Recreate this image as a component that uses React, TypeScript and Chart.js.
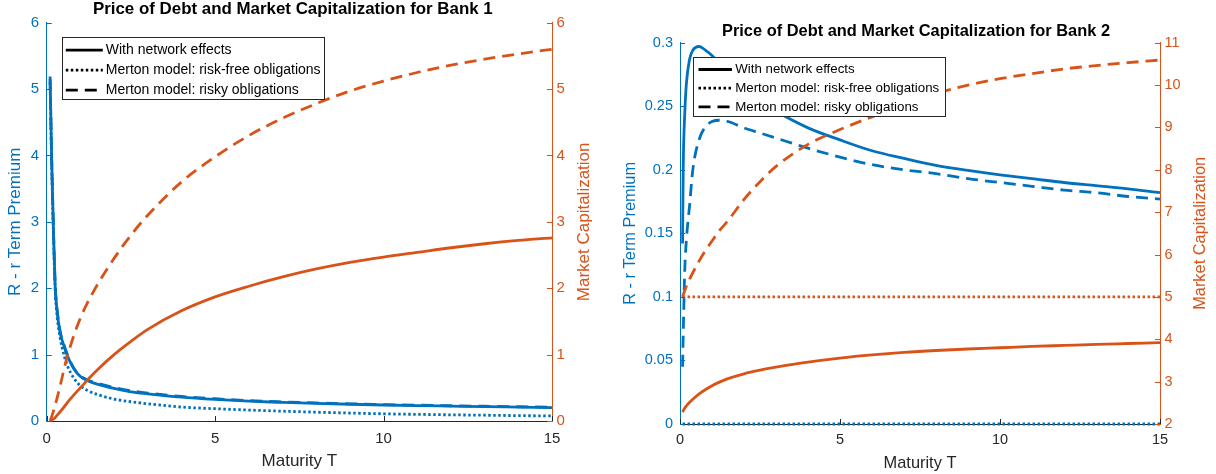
import React, { useEffect, useRef } from "react";
import { Chart, registerables } from "chart.js";

Chart.register(...registerables);

const FONT = "'Liberation Sans', Arial, Helvetica, sans-serif";
const BLUE = "#0072BD";
const ORANGE = "#D95319";
const AXIS = "#262626";

// ---------- Bank 1 ----------
const b1T = [0.1, 0.15, 0.2, 0.25, 0.3, 0.4, 0.5, 0.6, 0.8, 1, 1.25, 1.5, 2, 2.5, 3, 4, 5, 6, 7, 8, 9, 10, 11, 12, 13, 14, 15];
const b1PremNetwork = [5.19, 3.9, 2.9, 2.05, 1.7, 1.33, 1.15, 1.0, 0.79, 0.67, 0.6, 0.555, 0.49, 0.44, 0.41, 0.36, 0.325, 0.298, 0.28, 0.265, 0.252, 0.241, 0.232, 0.224, 0.216, 0.209, 0.202];
const b1PremRiskFree = [5.1, 3.8, 2.8, 2.0, 1.62, 1.25, 1.02, 0.85, 0.65, 0.53, 0.45, 0.4, 0.33, 0.29, 0.26, 0.21, 0.185, 0.165, 0.148, 0.133, 0.12, 0.108, 0.1, 0.093, 0.087, 0.081, 0.076];
const b1PremRisky = [5.15, 3.88, 2.9, 2.07, 1.72, 1.35, 1.17, 1.02, 0.8, 0.68, 0.61, 0.57, 0.505, 0.455, 0.42, 0.37, 0.335, 0.307, 0.288, 0.272, 0.259, 0.248, 0.238, 0.23, 0.222, 0.215, 0.208];
const b1CapNetwork = [0, 0.01, 0.03, 0.05, 0.08, 0.14, 0.2, 0.27, 0.39, 0.5, 0.64, 0.77, 1.0, 1.2, 1.38, 1.66, 1.87, 2.03, 2.17, 2.29, 2.39, 2.47, 2.54, 2.61, 2.67, 2.72, 2.76];
const b1CapRisky = [0, 0.07, 0.15, 0.24, 0.33, 0.53, 0.75, 0.95, 1.28, 1.55, 1.82, 2.05, 2.45, 2.8, 3.1, 3.6, 3.98, 4.3, 4.56, 4.78, 4.97, 5.12, 5.25, 5.36, 5.45, 5.53, 5.6];

// ---------- Bank 2 ----------
const b2T = [0.08, 0.1, 0.15, 0.2, 0.3, 0.4, 0.6, 0.8, 1, 1.25, 1.5, 2, 2.5, 3, 4, 5, 6, 7, 8, 9, 10, 11, 12, 13, 14, 15];
const b2PremNetwork = [0.142, 0.2, 0.245, 0.268, 0.287, 0.294, 0.297, 0.294, 0.29, 0.283, 0.276, 0.264, 0.254, 0.246, 0.233, 0.2235, 0.215, 0.209, 0.2035, 0.1995, 0.196, 0.193, 0.19, 0.1875, 0.185, 0.182];
const b2PremRiskFree = [0, 0, 0, 0, 0, 0, 0, 0, 0, 0, 0, 0, 0, 0, 0, 0, 0, 0, 0, 0, 0, 0, 0, 0, 0, 0];
const b2PremRisky = [0.045, 0.07, 0.122, 0.145, 0.172, 0.2, 0.224, 0.234, 0.238, 0.239, 0.238, 0.233, 0.229, 0.225, 0.217, 0.21, 0.204, 0.2, 0.197, 0.193, 0.19, 0.187, 0.184, 0.182, 0.179, 0.177];
const b2CapNetwork = [2.28, 2.31, 2.375, 2.43, 2.515, 2.585, 2.71, 2.815, 2.905, 2.995, 3.07, 3.185, 3.27, 3.34, 3.46, 3.555, 3.63, 3.69, 3.735, 3.77, 3.8, 3.83, 3.855, 3.88, 3.9, 3.92];
const b2CapRiskFree = [5, 5, 5, 5, 5, 5, 5, 5, 5, 5, 5, 5, 5, 5, 5, 5, 5, 5, 5, 5, 5, 5, 5, 5, 5, 5];
const b2CapRisky = [5.0, 5.05, 5.15, 5.25, 5.42, 5.57, 5.85, 6.1, 6.32, 6.58, 6.8, 7.3, 7.72, 8.08, 8.6, 8.95, 9.25, 9.52, 9.8, 10.0, 10.15, 10.27, 10.38, 10.46, 10.53, 10.59];

// ---------- ticks & labels ----------
const xTickValues = [0, 5, 10, 15];
const b1LeftTicks = [0, 1, 2, 3, 4, 5, 6];
const b1RightTicks = [0, 1, 2, 3, 4, 5, 6];
const b2LeftTicks = [0, 0.05, 0.1, 0.15, 0.2, 0.25, 0.3];
const b2RightTicks = [2, 3, 4, 5, 6, 7, 8, 9, 10, 11];
const legendLabels = ["With network effects", "Merton model: risk-free obligations", "Merton model: risky obligations"];
const legendStyles = ["solid", "dotted", "dashed"];

const LW = 2.8;
const DASH: Record<string, number[]> = { solid: [], dotted: [2.5, 2.5], dashed: [12, 7] };

type Series = { data: number[]; color: string; style: string; axis: string };

type Spec = {
  title: string;
  t: number[];
  series: Series[];
  yTicks: number[];
  y1Ticks: number[];
  yWidth: number;
  y1Width: number;
  xHeight: number;
  titleSize: number;
  titleTop: number;
  titleY: number;
  titleShift: number;
  tickSize: number;
  labelSize: number;
  xTickPad: number;
  xTitlePadBottom: number;
  yTickPad: number;
  y1TickPad: number;
  yTitlePadTop: number;
  rightTitleX: number;
  legend: { dx: number; dy: number; h: number; firstRow: number; rowH: number; sampleX: number; sampleLen: number; textX: number; font: number; padRight: number };
};

function setTicks(values: number[]) {
  return (scale: any) => {
    scale.ticks = values.map((v) => ({ value: v }));
  };
}

function makeConfig(p: Spec): any {
  const datasets = p.series.map((s) => ({
    data: p.t.map((x, i) => ({ x, y: s.data[i] })),
    yAxisID: s.axis,
    borderColor: s.color,
    backgroundColor: s.color,
    borderWidth: LW,
    borderDash: DASH[s.style],
    borderCapStyle: "butt",
    pointRadius: 0,
    fill: false,
    clip: 4,
    cubicInterpolationMode: "monotone",
  }));

  const extras = {
    id: "extras",
    afterDraw(chart: any) {
      const { ctx, chartArea: a, scales } = chart;
      ctx.save();
      // title centred above the axes
      ctx.fillStyle = "#000000";
      ctx.font = `bold ${p.titleSize}px ${FONT}`;
      ctx.textAlign = "center";
      ctx.textBaseline = "middle";
      ctx.fillText(p.title, (a.left + a.right) / 2 + p.titleShift, p.titleY);

      // inward tick marks
      const L = 5;
      ctx.lineWidth = 1;
      ctx.setLineDash([]);
      ctx.strokeStyle = AXIS;
      ctx.beginPath();
      for (const t of scales.x.ticks) {
        const px = Math.round(scales.x.getPixelForValue(t.value)) + 0.5;
        ctx.moveTo(px, a.bottom);
        ctx.lineTo(px, a.bottom - L);
      }
      ctx.stroke();
      ctx.strokeStyle = BLUE;
      ctx.beginPath();
      for (const t of scales.y.ticks) {
        const py = Math.round(scales.y.getPixelForValue(t.value)) + 0.5;
        ctx.moveTo(a.left, py);
        ctx.lineTo(a.left + L, py);
      }
      ctx.stroke();
      ctx.strokeStyle = ORANGE;
      ctx.beginPath();
      for (const t of scales.y1.ticks) {
        const py = Math.round(scales.y1.getPixelForValue(t.value)) + 0.5;
        ctx.moveTo(a.right, py);
        ctx.lineTo(a.right - L, py);
      }
      ctx.stroke();

      // right axis title (reads bottom to top)
      ctx.fillStyle = ORANGE;
      ctx.font = `${p.labelSize}px ${FONT}`;
      ctx.textAlign = "center";
      ctx.textBaseline = "middle";
      ctx.translate(p.rightTitleX, (a.top + a.bottom) / 2);
      ctx.rotate(-Math.PI / 2);
      ctx.fillText("Market Capitalization", 0, 0);
      ctx.setTransform(1, 0, 0, 1, 0, 0);

      // legend box
      const lg = p.legend;
      ctx.font = `${lg.font}px ${FONT}`;
      const tw = Math.max(...legendLabels.map((l) => ctx.measureText(l).width));
      const lx = Math.round(a.left + lg.dx) + 0.5;
      const ly = Math.round(a.top + lg.dy) + 0.5;
      const w = Math.round(lg.textX + tw + lg.padRight);
      ctx.fillStyle = "#ffffff";
      ctx.fillRect(lx, ly, w, lg.h);
      ctx.strokeStyle = AXIS;
      ctx.lineWidth = 1;
      ctx.strokeRect(lx, ly, w, Math.round(lg.h));
      legendLabels.forEach((label, i) => {
        const y = ly + lg.firstRow + i * lg.rowH;
        const dash = DASH[legendStyles[i]];
        const len = dash.length && dash[0] > 5 ? Math.min(lg.sampleLen, 2 * dash[0] + dash[1]) : lg.sampleLen;
        ctx.strokeStyle = "#000000";
        ctx.lineWidth = LW;
        ctx.lineCap = "butt";
        ctx.setLineDash(dash);
        ctx.beginPath();
        ctx.moveTo(lx + lg.sampleX, y);
        ctx.lineTo(lx + lg.sampleX + len, y);
        ctx.stroke();
        ctx.setLineDash([]);
        ctx.fillStyle = "#000000";
        ctx.textAlign = "left";
        ctx.textBaseline = "middle";
        ctx.fillText(label, lx + lg.textX, y);
      });
      ctx.restore();
    },
  };

  const grid = { display: true, drawOnChartArea: false, drawTicks: false, tickLength: 0 };

  return {
    type: "line",
    data: { datasets },
    plugins: [extras],
    options: {
      animation: false,
      responsive: false,
      devicePixelRatio: 1,
      events: [],
      layout: { padding: { top: p.titleTop, left: 0, right: 0, bottom: 0 } },
      plugins: {
        legend: { display: false },
        tooltip: { enabled: false },
        title: { display: false },
      },
      scales: {
        x: {
          type: "linear",
          min: 0,
          max: 15,
          afterBuildTicks: setTicks(xTickValues),
          afterFit: (s: any) => {
            s.height = p.xHeight;
          },
          grid,
          border: { display: true, color: AXIS, width: 1 },
          ticks: { color: AXIS, autoSkip: false, maxRotation: 0, padding: p.xTickPad, font: { family: FONT, size: p.tickSize } },
          title: {
            display: true,
            text: "Maturity T",
            color: AXIS,
            font: { family: FONT, size: p.labelSize, lineHeight: 1.2 },
            padding: { top: 0, bottom: p.xTitlePadBottom },
          },
        },
        y: {
          type: "linear",
          position: "left",
          min: p.yTicks[0],
          max: p.yTicks[p.yTicks.length - 1],
          afterBuildTicks: setTicks(p.yTicks),
          afterFit: (s: any) => {
            s.width = p.yWidth;
          },
          grid,
          border: { display: true, color: BLUE, width: 1 },
          ticks: { color: BLUE, autoSkip: false, padding: p.yTickPad, font: { family: FONT, size: p.tickSize }, callback: (v: any) => String(v) },
          title: {
            display: true,
            text: "R - r Term Premium",
            color: BLUE,
            font: { family: FONT, size: p.labelSize, lineHeight: 1.2 },
            padding: { top: p.yTitlePadTop, bottom: 0 },
          },
        },
        y1: {
          type: "linear",
          position: "right",
          min: p.y1Ticks[0],
          max: p.y1Ticks[p.y1Ticks.length - 1],
          afterBuildTicks: setTicks(p.y1Ticks),
          afterFit: (s: any) => {
            s.width = p.y1Width;
          },
          grid,
          border: { display: true, color: ORANGE, width: 1 },
          ticks: { color: ORANGE, autoSkip: false, padding: p.y1TickPad, font: { family: FONT, size: p.tickSize }, callback: (v: any) => String(v) },
        },
      },
    },
  };
}

const spec1: Spec = {
  title: "Price of Debt and Market Capitalization for Bank 1",
  t: b1T,
  series: [
    { data: b1CapNetwork, color: ORANGE, style: "solid", axis: "y1" },
    { data: b1CapRisky, color: ORANGE, style: "dashed", axis: "y1" },
    { data: b1PremNetwork, color: BLUE, style: "solid", axis: "y" },
    { data: b1PremRiskFree, color: BLUE, style: "dotted", axis: "y" },
    { data: b1PremRisky, color: BLUE, style: "dashed", axis: "y" },
  ],
  yTicks: b1LeftTicks,
  y1Ticks: b1RightTicks,
  yWidth: 46.7,
  y1Width: 56,
  xHeight: 53,
  titleSize: 16.9,
  titleTop: 22.7,
  titleY: 9.6,
  titleShift: -6.5,
  tickSize: 15,
  labelSize: 17,
  xTickPad: 9.3,
  xTitlePadBottom: 2.1,
  yTickPad: 7.5,
  y1TickPad: 4.5,
  yTitlePadTop: 4.8,
  rightTitleX: 584,
  legend: { dx: 15, dy: 14.6, h: 61.7, firstRow: 12.7, rowH: 20, sampleX: 3.3, sampleLen: 37, textX: 43.3, font: 14, padRight: 4 },
};

const spec2: Spec = {
  title: "Price of Debt and Market Capitalization for Bank 2",
  t: b2T,
  series: [
    { data: b2CapNetwork, color: ORANGE, style: "solid", axis: "y1" },
    { data: b2CapRiskFree, color: ORANGE, style: "dotted", axis: "y1" },
    { data: b2CapRisky, color: ORANGE, style: "dashed", axis: "y1" },
    { data: b2PremNetwork, color: BLUE, style: "solid", axis: "y" },
    { data: b2PremRiskFree, color: BLUE, style: "dotted", axis: "y" },
    { data: b2PremRisky, color: BLUE, style: "dashed", axis: "y" },
  ],
  yTicks: b2LeftTicks,
  y1Ticks: b2RightTicks,
  yWidth: 72,
  y1Width: 56,
  xHeight: 50,
  titleSize: 16.4,
  titleTop: 42.7,
  titleY: 31,
  titleShift: -4,
  tickSize: 14.5,
  labelSize: 16.4,
  xTickPad: 7.3,
  xTitlePadBottom: 0.6,
  yTickPad: 7,
  y1TickPad: 4.5,
  yTitlePadTop: 12.2,
  rightTitleX: 592,
  legend: { dx: 13.3, dy: 14.6, h: 58.7, firstRow: 12, rowH: 18.7, sampleX: 5, sampleLen: 33.4, textX: 41.7, font: 13.3, padRight: 6 },
};

function Panel({ spec, left }: { spec: Spec; left: number }) {
  const ref = useRef<HTMLCanvasElement>(null);
  useEffect(() => {
    if (!ref.current) return;
    const chart = new Chart(ref.current, makeConfig(spec));
    return () => chart.destroy();
  }, [spec]);
  return (
    <canvas
      ref={ref}
      width={608}
      height={474}
      style={{ position: "absolute", left, top: 0, width: 608, height: 474, display: "block" }}
    />
  );
}

export default function App() {
  return (
    <div style={{ position: "absolute", left: 0, top: 0, width: 1216, height: 474, background: "#ffffff", overflow: "hidden" }}>
      <Panel spec={spec1} left={0} />
      <Panel spec={spec2} left={608} />
    </div>
  );
}
